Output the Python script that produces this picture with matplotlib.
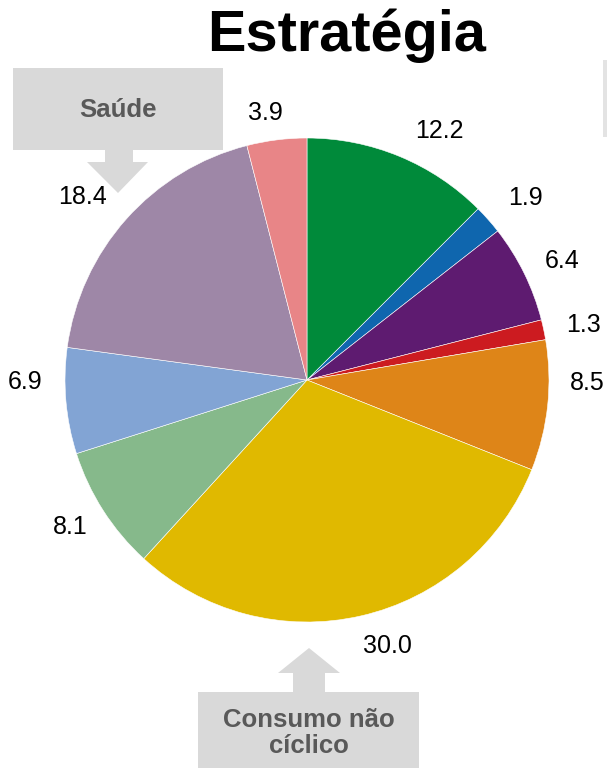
import matplotlib
matplotlib.use("Agg")
import matplotlib.pyplot as plt
from matplotlib.patches import Rectangle, Polygon

plt.rcParams["font.family"] = ["Liberation Sans", "DejaVu Sans"]

# Slice values, clockwise from 12 o'clock
values = [12.2, 1.9, 6.4, 1.3, 8.5, 30.0, 8.1, 6.9, 18.4, 3.9]
labels = [f"{v:.1f}" for v in values]
colors = ["#008a3a", "#0f66ae", "#5e1b70", "#cc1b20", "#de8518",
          "#e0b900", "#86b98b", "#82a4d4", "#9e87a7", "#e88587"]

title = "Estratégia"
callout_top = "Saúde"
callout_bottom = "Consumo não\ncíclico"

W, H = 607, 768
# where the value labels sit (image pixels), the original uses a best-fit layout
label_xy = [(439, 131), (525, 198), (562, 261), (583, 325), (587, 383),
            (387, 646), (70, 527), (25, 382), (83, 197), (265, 113)]

fig = plt.figure(figsize=(W / 100, H / 100), dpi=100)
ax = fig.add_axes([0, 0, 1, 1])


def py(y):
    # image pixel row -> data y
    return H - y


wedges, texts = ax.pie(
    values, labels=labels, colors=colors, startangle=90, counterclock=False,
    center=(307, py(380)), radius=242, labeldistance=1.165,
    wedgeprops=dict(edgecolor="white", linewidth=0.4),
    textprops=dict(fontsize=18, color="black"),
)
for t, (x, y) in zip(texts, label_xy):
    t.set_position((x, py(y)))
    t.set_horizontalalignment("center")
    t.set_verticalalignment("center")

ax.set_xlim(0, W)
ax.set_ylim(0, H)
ax.set_aspect("equal")
ax.axis("off")

box_col = "#d9d9d9"
txt_col = "#595959"

# "Saúde" callout with down arrow
ax.add_patch(Rectangle((13, py(150)), 210, 82, color=box_col, lw=0))
ax.add_patch(Polygon([(105, py(149)), (133, py(149)), (133, py(162)), (148, py(162)),
                      (118, py(193)), (87, py(162)), (105, py(162))],
                     closed=True, color=box_col, lw=0))
ax.text(118, py(110), callout_top, ha="center", va="center", fontsize=18.5,
        fontweight="bold", color=txt_col)

# "Consumo não cíclico" callout with up arrow
ax.add_patch(Rectangle((198, 0), 221, py(692), color=box_col, lw=0))
ax.add_patch(Polygon([(293, py(693)), (325, py(693)), (325, py(673)), (340, py(673)),
                      (309, py(648)), (278, py(673)), (293, py(673))],
                     closed=True, color=box_col, lw=0))
ax.text(309, py(733), callout_bottom, ha="center", va="center", fontsize=18.5,
        fontweight="bold", color=txt_col, linespacing=1.15)

# sliver of a neighbouring box at the right edge
ax.add_patch(Rectangle((603, py(137)), 6, 77, color="#e3e3e3", lw=0))

ax.text(347, py(36), title, ha="center", va="center", fontsize=41.5,
        fontweight="bold", color="black")

fig.savefig("out.png", dpi=100)
